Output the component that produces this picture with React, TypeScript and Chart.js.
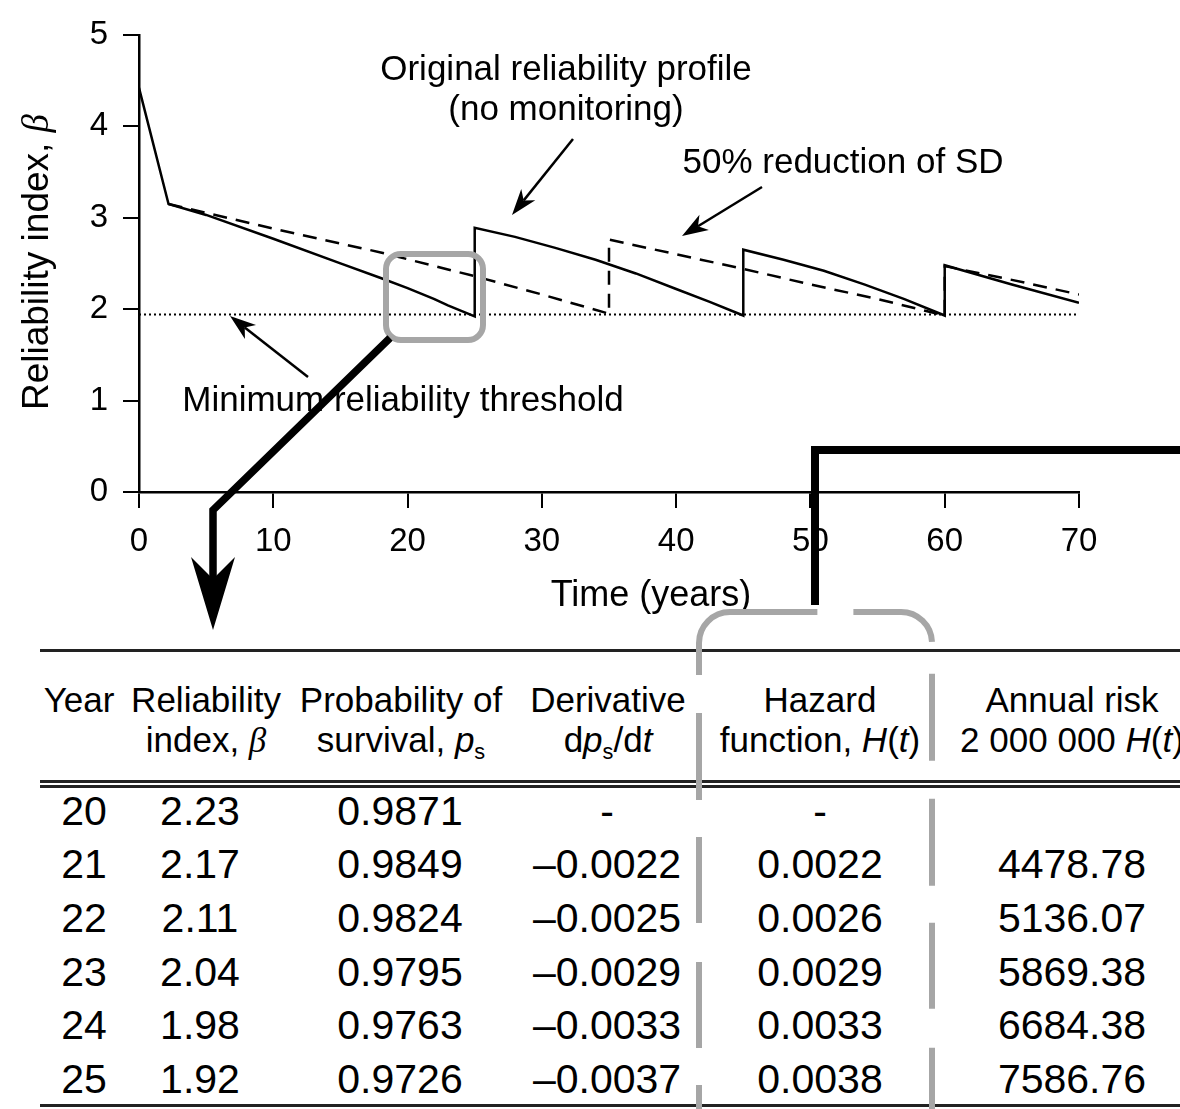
import React, { useEffect, useRef } from 'react';
import { Chart, registerables } from 'chart.js';

Chart.register(...registerables);

// ---------- chart data ----------
const originalTime = [0, 2.2, 5, 10, 15, 18, 20, 21, 22, 23, 24, 25, 25, 28, 31, 34, 37, 40, 42.5, 45, 45, 48, 51, 54, 57, 60, 60, 65, 70];
const originalBeta = [4.42, 3.15, 3.03, 2.77, 2.5, 2.34, 2.23, 2.17, 2.11, 2.04, 1.98, 1.92, 2.89, 2.79, 2.67, 2.54, 2.39, 2.22, 2.08, 1.93, 2.65, 2.54, 2.42, 2.27, 2.11, 1.93, 2.48, 2.27, 2.07];

const reducedTime = [2.2, 10, 18, 25, 30, 35, 35, 40, 45, 50, 55, 60, 60, 65, 70];
const reducedBeta = [3.15, 2.88, 2.62, 2.36, 2.16, 1.95, 2.76, 2.6, 2.44, 2.27, 2.11, 1.93, 2.47, 2.32, 2.16];

const thresholdTime = [0, 70];
const thresholdBeta = [1.94, 1.94];

const xTickStep = 10;
const yTickStep = 1;

// ---------- table data ----------
const tableYears = ['20', '21', '22', '23', '24', '25'];
const tableBeta = ['2.23', '2.17', '2.11', '2.04', '1.98', '1.92'];
const tableSurvival = ['0.9871', '0.9849', '0.9824', '0.9795', '0.9763', '0.9726'];
const tableDerivative = ['-', '\u20130.0022', '\u20130.0025', '\u20130.0029', '\u20130.0033', '\u20130.0037'];
const tableHazard = ['-', '0.0022', '0.0026', '0.0029', '0.0033', '0.0038'];
const tableRisk = ['', '4478.78', '5136.07', '5869.38', '6684.38', '7586.76'];

const FONT = '"Liberation Sans", Arial, Helvetica, sans-serif';
const SERIF = '"Liberation Serif", "Times New Roman", serif';

function pts(xs: number[], ys: number[]) {
  return xs.map((x, i) => ({ x, y: ys[i] }));
}

function thinArrow(ctx: CanvasRenderingContext2D, x1: number, y1: number, x2: number, y2: number) {
  const hl = 26, hw = 9;
  const a = Math.atan2(y2 - y1, x2 - x1);
  const c = Math.cos(a), s = Math.sin(a);
  const bx = x2 - hl * c, by = y2 - hl * s;
  const nx = x2 - hl * 0.72 * c, ny = y2 - hl * 0.72 * s;
  ctx.lineWidth = 2.5;
  ctx.lineCap = 'butt';
  ctx.beginPath();
  ctx.moveTo(x1, y1);
  ctx.lineTo(nx, ny);
  ctx.stroke();
  ctx.beginPath();
  ctx.moveTo(x2, y2);
  ctx.lineTo(bx - hw * s, by + hw * c);
  ctx.lineTo(nx, ny);
  ctx.lineTo(bx + hw * s, by - hw * c);
  ctx.closePath();
  ctx.fill();
}

const overlayPlugin = {
  id: 'overlay',
  afterDraw(chart: any) {
    const ctx: CanvasRenderingContext2D = chart.ctx;
    const area = chart.chartArea;
    ctx.save();
    ctx.fillStyle = '#000';
    ctx.strokeStyle = '#000';

    // y axis title with italic beta
    ctx.save();
    ctx.translate(38, 262);
    ctx.rotate(-Math.PI / 2);
    ctx.textBaseline = 'middle';
    ctx.textAlign = 'left';
    const partA = 'Reliability index, ';
    ctx.font = `37px ${FONT}`;
    const wa = ctx.measureText(partA).width;
    ctx.font = `italic 37px ${SERIF}`;
    const wb = ctx.measureText('\u03b2').width;
    const start = -(wa + wb) / 2;
    ctx.font = `37px ${FONT}`;
    ctx.fillText(partA, start, 0);
    ctx.font = `italic 37px ${SERIF}`;
    ctx.fillText('\u03b2', start + wa, 0);
    ctx.restore();

    // x axis title
    ctx.font = `36px ${FONT}`;
    ctx.textAlign = 'center';
    ctx.textBaseline = 'middle';
    ctx.fillText('Time (years)', 651, 596);

    // annotation texts
    ctx.font = `35px ${FONT}`;
    ctx.fillText('Original reliability profile', 566, 70);
    ctx.fillText('(no monitoring)', 566, 110);
    ctx.fillText('50% reduction of SD', 843, 163);
    ctx.fillText('Minimum reliability threshold', 403, 401);

    // thin arrows
    thinArrow(ctx, 573, 139, 512, 215);
    thinArrow(ctx, 762, 187, 682, 236);
    thinArrow(ctx, 308, 377, 230, 316);

    // gray highlight box
    ctx.strokeStyle = '#a6a6a6';
    ctx.lineWidth = 6;
    ctx.beginPath();
    ctx.roundRect(386, 254, 97, 86, 15);
    ctx.stroke();

    // big black arrow to table
    ctx.strokeStyle = '#000';
    ctx.lineWidth = 7.5;
    ctx.lineJoin = 'miter';
    ctx.lineCap = 'butt';
    ctx.beginPath();
    ctx.moveTo(390, 338);
    ctx.lineTo(213, 510);
    ctx.lineTo(213, 585);
    ctx.stroke();
    ctx.beginPath();
    ctx.moveTo(213, 630);
    ctx.lineTo(191, 557);
    ctx.lineTo(213, 579);
    ctx.lineTo(235, 557);
    ctx.closePath();
    ctx.fill();

    // thick bracket line on the right
    ctx.lineWidth = 8;
    ctx.beginPath();
    ctx.moveTo(1185, 450);
    ctx.lineTo(815, 450);
    ctx.lineTo(815, 605);
    ctx.stroke();

    // gray dashed rounded outline over the table
    ctx.strokeStyle = '#a6a6a6';
    ctx.lineWidth = 6;
    ctx.setLineDash([24, 37, 86, 39, 86, 37, 87, 38, 168, 36, 95, 32, 87, 38, 87, 37, 86, 39, 300, 10]);
    ctx.beginPath();
    ctx.moveTo(699, 1109);
    ctx.lineTo(699, 643);
    ctx.arcTo(699, 612, 730, 612, 31);
    ctx.lineTo(901, 612);
    ctx.arcTo(932, 612, 932, 643, 31);
    ctx.lineTo(932, 1109);
    ctx.stroke();
    ctx.setLineDash([]);

    ctx.restore();
  },
};

function Cell(props: { cx: number; cy: number; w: number; size: number; children: any }) {
  const lh = props.size * 1.2;
  return (
    <div
      style={{
        position: 'absolute',
        left: props.cx - props.w / 2,
        top: props.cy - lh / 2,
        width: props.w,
        height: lh,
        lineHeight: `${lh}px`,
        fontSize: props.size,
        textAlign: 'center',
        whiteSpace: 'nowrap',
        fontFamily: FONT,
        color: '#000',
      }}
    >
      {props.children}
    </div>
  );
}

const beta = <span style={{ fontFamily: SERIF, fontStyle: 'italic' }}>{'\u03b2'}</span>;
const subS = (
  <sub style={{ fontSize: '0.62em', verticalAlign: 'baseline', position: 'relative', top: '0.3em' }}>s</sub>
);

function Table() {
  const hs = 35;
  const ds = 41;
  const l1 = 700;
  const l2 = 740;
  const colX = [84, 200, 400, 607, 820, 1072];
  const rowY = [812, 865, 919, 973, 1026, 1080];
  const rule = (top: number, h: number) => (
    <div style={{ position: 'absolute', left: 40, width: 1160, top, height: h, background: '#222' }} />
  );
  return (
    <div style={{ position: 'absolute', left: 0, top: 0, width: 1180, height: 1109 }}>
      {rule(649, 3)}
      {rule(780, 2.5)}
      {rule(785, 2.5)}
      {rule(1104, 3)}
      <Cell cx={79} cy={l1} w={120} size={hs}>Year</Cell>
      <Cell cx={206} cy={l1} w={180} size={hs}>Reliability</Cell>
      <Cell cx={206} cy={l2} w={180} size={hs}>index, {beta}</Cell>
      <Cell cx={401} cy={l1} w={240} size={hs}>Probability of</Cell>
      <Cell cx={401} cy={l2} w={240} size={hs}>survival, <i>p</i>{subS}</Cell>
      <Cell cx={608} cy={l1} w={200} size={hs}>Derivative</Cell>
      <Cell cx={608} cy={l2} w={200} size={hs}>d<i>p</i>{subS}/d<i>t</i></Cell>
      <Cell cx={820} cy={l1} w={230} size={hs}>Hazard</Cell>
      <Cell cx={820} cy={l2} w={230} size={hs}>function, <i>H</i>(<i>t</i>)</Cell>
      <Cell cx={1072} cy={l1} w={260} size={hs}>Annual risk</Cell>
      <Cell cx={1072} cy={l2} w={260} size={hs}>2 000 000 <i>H</i>(<i>t</i>)</Cell>
      {tableYears.map((v, i) => (
        <React.Fragment key={v}>
          <Cell cx={colX[0]} cy={rowY[i]} w={110} size={ds}>{v}</Cell>
          <Cell cx={colX[1]} cy={rowY[i]} w={150} size={ds}>{tableBeta[i]}</Cell>
          <Cell cx={colX[2]} cy={rowY[i]} w={200} size={ds}>{tableSurvival[i]}</Cell>
          <Cell cx={colX[3]} cy={rowY[i]} w={200} size={ds}>{tableDerivative[i]}</Cell>
          <Cell cx={colX[4]} cy={rowY[i]} w={200} size={ds}>{tableHazard[i]}</Cell>
          <Cell cx={colX[5]} cy={rowY[i]} w={200} size={ds}>{tableRisk[i]}</Cell>
        </React.Fragment>
      ))}
    </div>
  );
}

export default function App() {
  const canvasRef = useRef<HTMLCanvasElement | null>(null);

  useEffect(() => {
    if (!canvasRef.current) return;
    const chart = new Chart(canvasRef.current, {
      type: 'scatter',
      data: {
        datasets: [
          {
            label: 'Original reliability profile (no monitoring)',
            data: pts(originalTime, originalBeta),
            showLine: true,
            borderColor: '#000',
            borderWidth: 2.5,
            pointRadius: 0,
            tension: 0,
          },
          {
            label: '50% reduction of SD',
            data: pts(reducedTime, reducedBeta),
            showLine: true,
            borderColor: '#000',
            borderWidth: 2.5,
            borderDash: [14, 9],
            pointRadius: 0,
            tension: 0,
          },
          {
            label: 'Minimum reliability threshold',
            data: pts(thresholdTime, thresholdBeta),
            showLine: true,
            borderColor: '#000',
            borderWidth: 2,
            borderDash: [2, 3],
            pointRadius: 0,
            tension: 0,
          },
        ],
      },
      options: {
        responsive: false,
        maintainAspectRatio: false,
        animation: false,
        devicePixelRatio: 1,
        layout: { padding: { left: 0, top: 30, right: 101, bottom: 493 } },
        plugins: { legend: { display: false }, tooltip: { enabled: false } },
        scales: {
          x: {
            type: 'linear',
            min: 0,
            max: 70,
            ticks: { stepSize: xTickStep, color: '#000', font: { family: FONT, size: 33 }, padding: 14 },
            grid: { drawOnChartArea: false, drawTicks: true, tickLength: 16, color: '#000', lineWidth: 2 },
            border: { display: true, color: '#000', width: 2.5 },
            afterFit: (s: any) => {
              s.height = 124;
            },
          },
          y: {
            type: 'linear',
            min: 0,
            max: 5,
            ticks: { stepSize: yTickStep, color: '#000', font: { family: FONT, size: 33 }, padding: 15 },
            grid: { drawOnChartArea: false, drawTicks: true, tickLength: 16, color: '#000', lineWidth: 2 },
            border: { display: true, color: '#000', width: 2.5 },
            afterFit: (s: any) => {
              s.width = 139;
            },
          },
        },
      },
      plugins: [overlayPlugin],
    });
    return () => chart.destroy();
  }, []);

  return (
    <div
      style={{
        position: 'absolute',
        left: 0,
        top: 0,
        width: 1180,
        height: 1109,
        overflow: 'hidden',
        background: '#fff',
      }}
    >
      <Table />
      <canvas
        ref={canvasRef}
        width={1180}
        height={1109}
        style={{ position: 'absolute', left: 0, top: 0, width: 1180, height: 1109, zIndex: 1, pointerEvents: 'none' }}
      />
    </div>
  );
}
